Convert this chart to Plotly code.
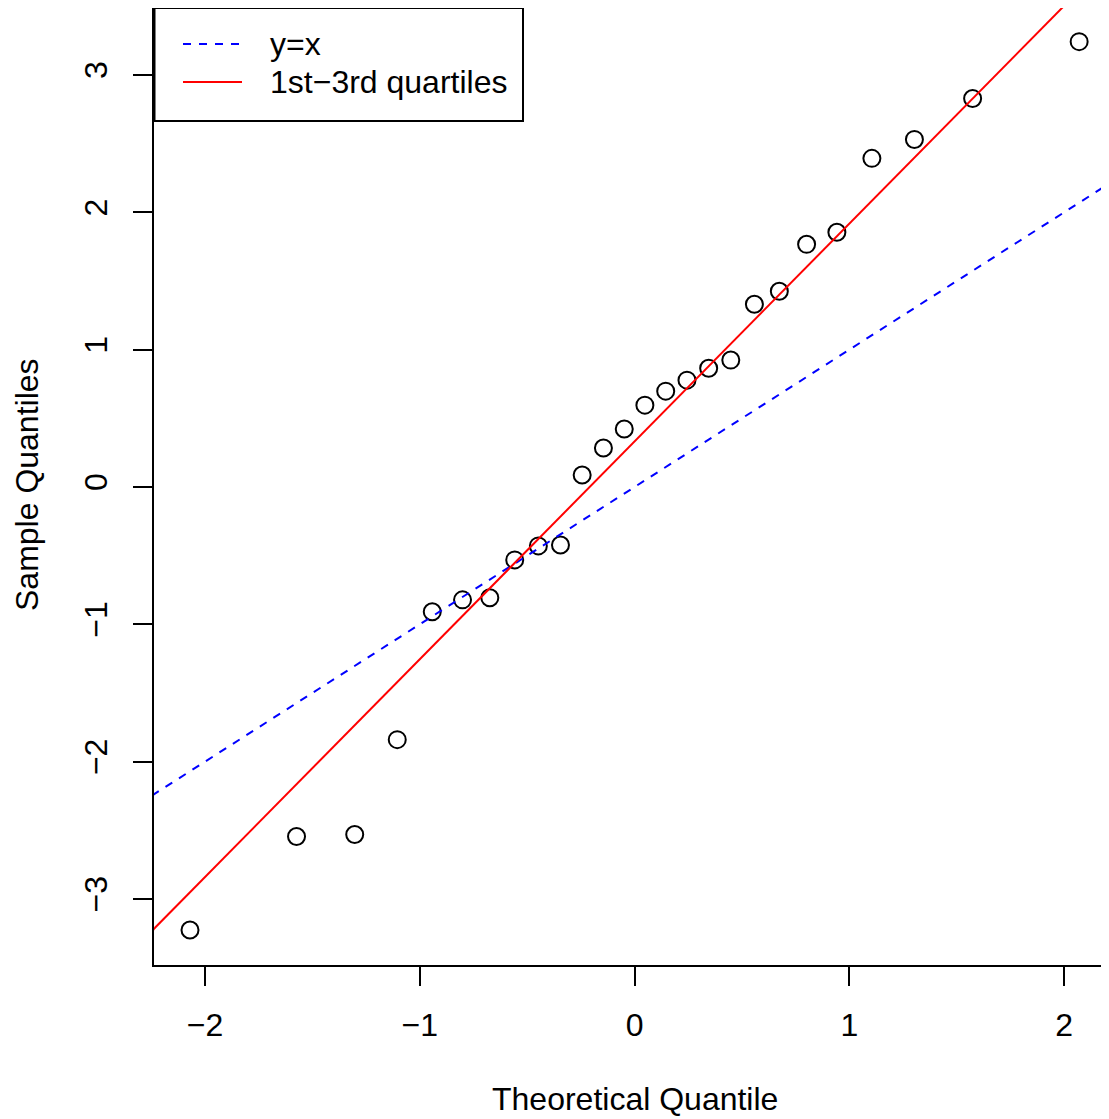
import numpy as np
import plotly.graph_objects as go

# ---- data ----
theoretical_quantiles = [-2.070, -1.574, -1.303, -1.105, -0.942, -0.801, -0.674, -0.558,
                         -0.448, -0.345, -0.244, -0.145, -0.048, 0.048, 0.145, 0.244,
                         0.345, 0.448, 0.558, 0.674, 0.801, 0.942, 1.105, 1.303, 1.574, 2.070]
sample_quantiles = [-3.226, -2.545, -2.531, -1.840, -0.909, -0.822, -0.807, -0.531,
                    -0.429, -0.422, 0.087, 0.284, 0.422, 0.596, 0.698, 0.778,
                    0.865, 0.924, 1.331, 1.425, 1.767, 1.855, 2.393, 2.531, 2.829, 3.243]
x_ticks = [-2, -1, 0, 1, 2]
y_ticks = [-3, -2, -1, 0, 1, 2, 3]
legend_labels = ["y=x", "1st\u22123rd quartiles"]

# qqline through 1st and 3rd quartiles
Z75 = 0.6744897501960817
q1, q3 = np.quantile(sample_quantiles, [0.25, 0.75])
slope = (q3 - q1) / (2 * Z75)
intercept = q1 + slope * Z75

X_RANGE = [-2.2376, 2.209]
Y_RANGE = [-3.481, 3.488]
line_x = np.array([-3.0, 3.0])

FONT = "Liberation Sans, Arial, sans-serif"
FS = 32

OFF = 8  # page body margin
W, H = 1109 - OFF, 1119 - OFF
ML, MR, MT = 146, 0, 0
MB = H - (965 - OFF)

fig = go.Figure()
fig.add_trace(go.Scatter(
    x=theoretical_quantiles, y=sample_quantiles, mode="markers",
    marker=dict(symbol="circle-open", size=17, color="black", line=dict(width=2)),
    showlegend=False, name="sample"))
fig.add_trace(go.Scatter(
    x=line_x, y=line_x, mode="lines",
    line=dict(color="blue", width=2, dash="8px,8px"),
    showlegend=False, name=legend_labels[0]))
fig.add_trace(go.Scatter(
    x=line_x, y=intercept + slope * line_x, mode="lines",
    line=dict(color="red", width=2),
    showlegend=False, name=legend_labels[1]))

# helpers: page pixel -> paper coordinates
pw = W - ML - MR
ph = H - MT - MB
def px(xp):
    return (xp - OFF - ML) / pw
def py(yp):
    return (H - MB - (yp - OFF)) / ph

shapes = [
    dict(type="rect", xref="paper", yref="paper", x0=px(154.5), x1=px(523), y0=py(121), y1=py(8),
         line=dict(color="black", width=2), fillcolor="white", layer="above"),
    dict(type="line", xref="paper", yref="paper", x0=px(183), x1=px(242), y0=py(44), y1=py(44),
         line=dict(color="blue", width=2, dash="8px,8px"), layer="above"),
    dict(type="line", xref="paper", yref="paper", x0=px(183), x1=px(242), y0=py(82), y1=py(82),
         line=dict(color="red", width=2), layer="above"),
]
annotations = [
    dict(text=legend_labels[0], xref="paper", yref="paper", x=px(268), y=py(44),
         xanchor="left", yanchor="middle", showarrow=False, font=dict(size=FS, color="black", family=FONT)),
    dict(text=legend_labels[1], xref="paper", yref="paper", x=px(268), y=py(82),
         xanchor="left", yanchor="middle", showarrow=False, font=dict(size=FS, color="black", family=FONT)),
    dict(text="Theoretical Quantile", xref="paper", yref="paper", x=px(635), y=py(1099),
         xanchor="center", yanchor="middle", showarrow=False, font=dict(size=FS, color="black", family=FONT)),
    dict(text="Sample Quantiles", xref="paper", yref="paper", x=px(27), y=py(485),
         xanchor="center", yanchor="middle", textangle=-90, showarrow=False,
         font=dict(size=FS, color="black", family=FONT)),
]

fig.update_layout(
    width=W, height=H,
    margin=dict(l=ML, r=MR, t=MT, b=MB, autoexpand=False),
    plot_bgcolor="white", paper_bgcolor="white",
    font=dict(family=FONT, size=FS, color="black"),
    shapes=shapes, annotations=annotations,
    showlegend=False,
)
fig.update_xaxes(range=X_RANGE, tickvals=x_ticks, ticks="outside", ticklen=19, tickwidth=2,
                 tickcolor="black", showgrid=False, zeroline=False, showline=True, linewidth=2,
                 linecolor="black", mirror=True, ticklabelstandoff=12,
                 tickfont=dict(size=FS, family=FONT, color="black"))
fig.update_yaxes(range=Y_RANGE, tickvals=y_ticks, ticks="outside", ticklen=19, tickwidth=2,
                 tickcolor="black", showgrid=False, zeroline=False, showline=True, linewidth=2,
                 linecolor="black", mirror=True, tickangle=-90, ticklabelstandoff=13,
                 tickfont=dict(size=FS, family=FONT, color="black"))

fig.write_html("out.html")
